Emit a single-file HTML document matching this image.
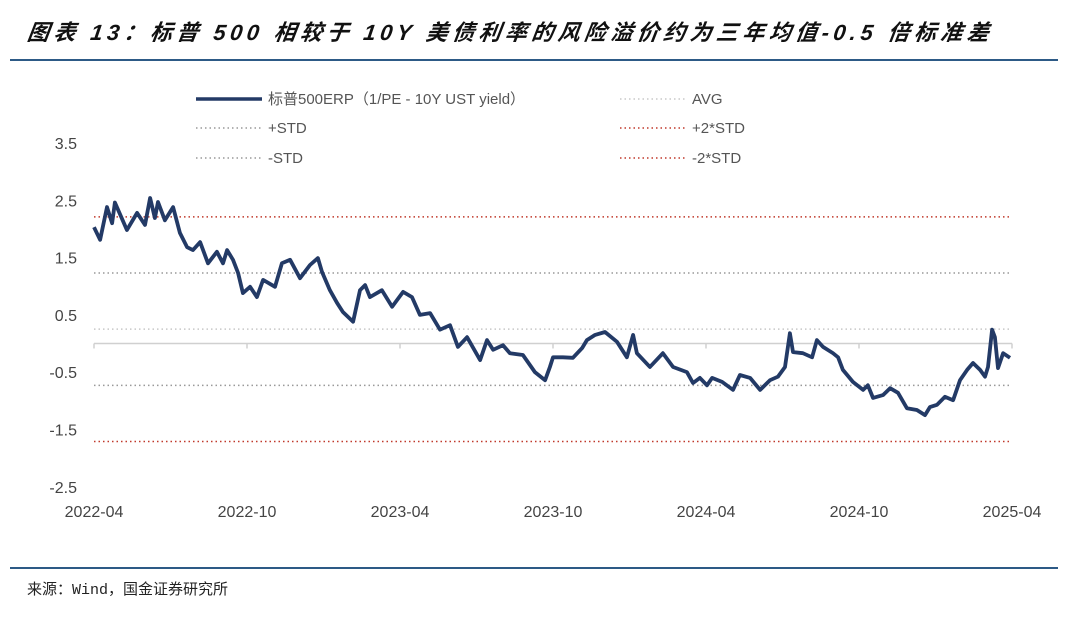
<!DOCTYPE html>
<html><head><meta charset="utf-8"><style>
body{margin:0;background:#fff;width:1080px;height:615px;overflow:hidden;font-family:"Liberation Sans","Noto Sans CJK SC",sans-serif;}
</style></head><body>
<svg width="1080" height="615" xmlns="http://www.w3.org/2000/svg">
<text x="27" y="40" font-size="22" font-weight="bold" font-style="italic" letter-spacing="4.4" fill="#111" font-family="'Liberation Sans','Noto Sans CJK SC',sans-serif" transform="skewX(-8) translate(5,0)">图表 13：标普 500 相较于 10Y 美债利率的风险溢价约为三年均值-0.5 倍标准差</text>
<line x1="10" y1="60" x2="1058" y2="60" stroke="#2d5a86" stroke-width="2"/>
<line x1="10" y1="568" x2="1058" y2="568" stroke="#2d5a86" stroke-width="2"/>
<text x="27" y="594" font-size="15" fill="#222" font-family="'Liberation Mono','Noto Sans CJK SC',monospace">来源：Wind，国金证券研究所</text>
<g id="legend" font-size="15" fill="#555">
<g><line x1="196" y1="99" x2="262" y2="99" stroke="#233a66" stroke-width="3.5"/><text x="268" y="104">标普500ERP（1/PE - 10Y UST yield）</text></g>
<g><line x1="620" y1="99" x2="686" y2="99" stroke="#c8c8c8" stroke-width="1.5" stroke-dasharray="1.5,3"/><text x="692" y="104">AVG</text></g>
<g><line x1="196" y1="128" x2="262" y2="128" stroke="#999" stroke-width="1.5" stroke-dasharray="1.5,3"/><text x="268" y="133">+STD</text></g>
<g><line x1="620" y1="128" x2="686" y2="128" stroke="#c0392b" stroke-width="1.5" stroke-dasharray="1.5,3"/><text x="692" y="133">+2*STD</text></g>
<g><line x1="196" y1="158" x2="262" y2="158" stroke="#999" stroke-width="1.5" stroke-dasharray="1.5,3"/><text x="268" y="163">-STD</text></g>
<g><line x1="620" y1="158" x2="686" y2="158" stroke="#c0392b" stroke-width="1.5" stroke-dasharray="1.5,3"/><text x="692" y="163">-2*STD</text></g>
</g>
<g id="plot"></g>
</svg>
<script>
const yTicks=[3.5,2.5,1.5,0.5,-0.5,-1.5,-2.5];
const xTickLabels=["2022-04","2022-10","2023-04","2023-10","2024-04","2024-10","2025-04"];
const xTickMonths=[0,6,12,18,24,30,36];
const refNames=["avg","plus-std","plus-2std","minus-std","minus-2std"];
const refValues=[0.25,1.23,2.21,-0.73,-1.71];
const refColors=["#c8c8c8","#999","#c0392b","#999","#c0392b"];
const months=[0,0.24,0.51,0.71,0.82,1.29,1.69,2.0,2.2,2.39,2.51,2.78,3.1,3.37,3.65,3.88,4.16,4.47,4.82,5.06,5.22,5.45,5.65,5.84,6.12,6.39,6.63,7.1,7.37,7.69,8.08,8.47,8.78,8.94,9.25,9.53,9.76,10.16,10.43,10.63,10.82,11.29,11.69,12.12,12.47,12.78,13.18,13.57,13.96,14.27,14.63,15.14,15.41,15.65,16.04,16.31,16.82,17.29,17.69,17.88,18.0,18.39,18.78,19.14,19.33,19.65,20.04,20.51,20.9,21.14,21.29,21.8,22.31,22.71,23.25,23.49,23.76,24.04,24.24,24.63,25.06,25.33,25.73,26.12,26.51,26.82,27.1,27.29,27.41,27.8,28.16,28.35,28.59,28.98,29.18,29.37,29.76,30.16,30.35,30.55,30.94,31.22,31.53,31.88,32.27,32.59,32.78,33.06,33.37,33.69,33.96,34.24,34.47,34.75,34.94,35.06,35.22,35.33,35.45,35.65,35.92];
const erp=[2.03,1.81,2.38,2.10,2.46,1.98,2.28,2.07,2.54,2.19,2.47,2.15,2.38,1.93,1.68,1.63,1.77,1.40,1.60,1.40,1.63,1.46,1.23,0.88,0.99,0.81,1.11,0.99,1.40,1.46,1.14,1.37,1.49,1.25,0.93,0.71,0.55,0.38,0.93,1.02,0.81,0.93,0.64,0.90,0.81,0.50,0.53,0.24,0.32,-0.06,0.11,-0.29,0.06,-0.11,-0.03,-0.17,-0.20,-0.50,-0.64,-0.41,-0.24,-0.24,-0.25,-0.08,0.06,0.15,0.20,0.03,-0.24,0.15,-0.17,-0.41,-0.17,-0.41,-0.50,-0.69,-0.60,-0.73,-0.60,-0.67,-0.81,-0.55,-0.60,-0.81,-0.64,-0.58,-0.41,0.18,-0.15,-0.17,-0.24,0.06,-0.06,-0.17,-0.24,-0.46,-0.67,-0.81,-0.73,-0.95,-0.90,-0.78,-0.86,-1.13,-1.16,-1.25,-1.11,-1.07,-0.93,-0.99,-0.64,-0.46,-0.34,-0.46,-0.58,-0.41,0.24,0.11,-0.43,-0.17,-0.25];
const X0=94,X1=1012,Y0=343.5,PPU=57.3;
function xs(m){return X0+(m/36)*(X1-X0);}
function ys(v){return Y0-v*PPU;}
const NS="http://www.w3.org/2000/svg";
const g=document.getElementById('plot');
function mk(t,a){const e=document.createElementNS(NS,t);for(const k in a)e.setAttribute(k,a[k]);g.appendChild(e);return e;}
yTicks.forEach(v=>{const t=mk('text',{x:77,y:ys(v)+6,'text-anchor':'end','font-size':16,fill:'#444'});t.textContent=v;

});
refValues.forEach((v,i)=>{const l=mk('line',{x1:X0,x2:X1,y1:ys(v),y2:ys(v),stroke:refColors[i],'stroke-width':1.5,'stroke-dasharray':'1.5,3'});

});
const ax=mk('line',{x1:X0,x2:X1,y1:Y0,y2:Y0,stroke:'#d0d0d0','stroke-width':1.5});


xTickMonths.forEach((m,i)=>{const tk=mk('line',{x1:xs(m),x2:xs(m),y1:Y0,y2:Y0+5,stroke:'#d0d0d0','stroke-width':1.5});


const t=mk('text',{x:xs(m),y:517,'text-anchor':'middle','font-size':16,fill:'#444'});t.textContent=xTickLabels[i];

});
const p=mk('polyline',{points:months.map((m,i)=>xs(m).toFixed(1)+','+ys(erp[i]).toFixed(1)).join(' '),fill:'none',stroke:'#233a66','stroke-width':3.8,'stroke-linejoin':'round'});


</script>
</body></html>
